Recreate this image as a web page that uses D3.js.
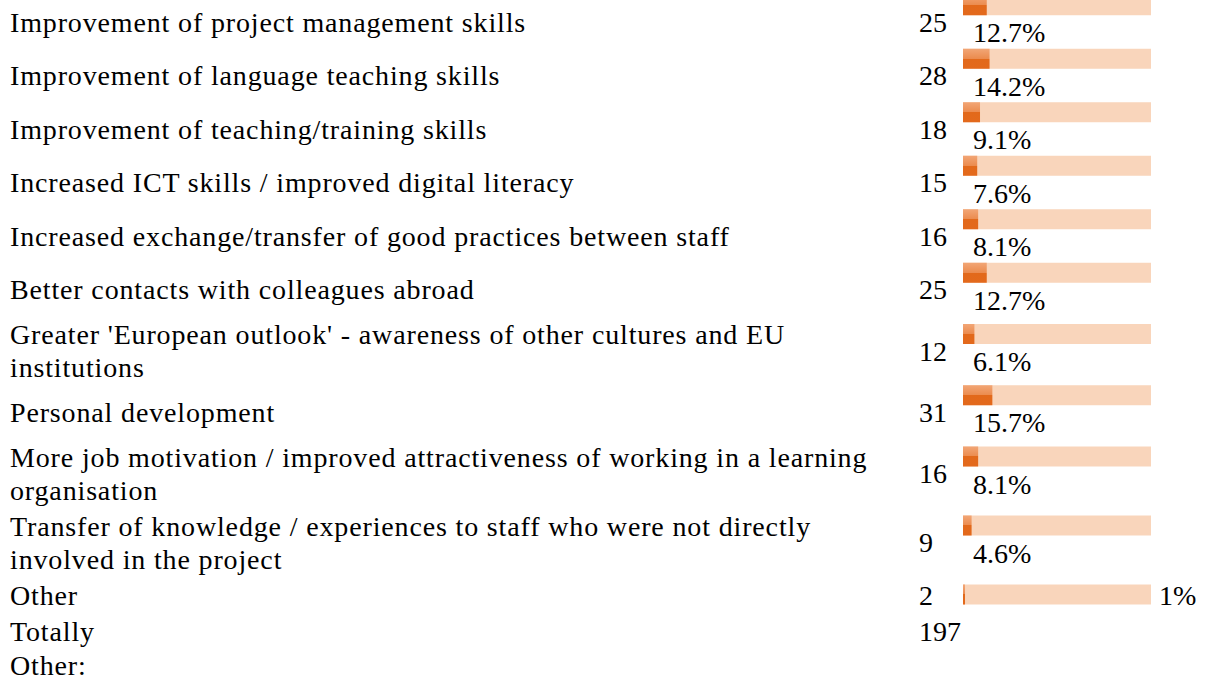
<!DOCTYPE html>
<html>
<head>
<meta charset="utf-8">
<script src="https://cdn.jsdelivr.net/npm/d3@7"></script>
<style>
  html, body { margin: 0; padding: 0; background: #fff; overflow: hidden; }
  svg text { font-family: "Liberation Serif", "Times New Roman", serif; font-size: 28px; fill: #000; }
  svg text.lab { letter-spacing: 0.85px; }
</style>
</head>
<body>
<div id="chart"></div>
<script>
const labels = [
  "Improvement of project management skills",
  "Improvement of language teaching skills",
  "Improvement of teaching/training skills",
  "Increased ICT skills / improved digital literacy",
  "Increased exchange/transfer of good practices between staff",
  "Better contacts with colleagues abroad",
  "Greater 'European outlook' - awareness of other cultures and EU institutions",
  "Personal development",
  "More job motivation / improved attractiveness of working in a learning organisation",
  "Transfer of knowledge / experiences to staff who were not directly involved in the project",
  "Other"
];
const counts = [25, 28, 18, 15, 16, 25, 12, 31, 16, 9, 2];
const percents = [12.7, 14.2, 9.1, 7.6, 8.1, 12.7, 6.1, 15.7, 8.1, 4.6, 1];
const totalLabel = "Totally";
const totalCount = 197;
const footerLabel = "Other:";

function drawTable() {
    const width = 1208, height = 680;
    const labelX = 10, labelW = 875;   // label column
    const countX = 919;                // count column
    const barX = 963, trackW = 187, barH = 20, cellW = 245;
    const lineH = 33, pad = 1.5, baseOff = 27.75;
    const cellH = 50.5;                // bar + percentage line below
    const pctDrop = 27;                // baseline of % text under the bar
    const top = -6.25;

    const svg = d3.select("#chart").append("svg")
        .attr("width", width).attr("height", height);

    const defs = svg.append("defs");
    const grad = defs.append("linearGradient").attr("id", "fillGrad")
        .attr("x1", 0).attr("y1", 0).attr("x2", 0).attr("y2", 1);
    grad.append("stop").attr("offset", "0%").attr("stop-color", "#f2a676");
    grad.append("stop").attr("offset", "50%").attr("stop-color", "#eb8b4e");
    grad.append("stop").attr("offset", "50%").attr("stop-color", "#e2691b");
    grad.append("stop").attr("offset", "100%").attr("stop-color", "#e3691c");

    const x = d3.scaleLinear().domain([0, 100]).range([0, trackW]);
    const fmt = v => String(v) + "%";

    // measure helpers for wrapping
    const probe = svg.append("text").attr("class", "lab").attr("x", -9999).attr("y", -9999);
    const measure = s => { probe.text(s); return probe.node().getComputedTextLength(); };
    const probeNum = svg.append("text").attr("x", -9999).attr("y", -9999);
    const measureNum = s => { probeNum.text(s); return probeNum.node().getComputedTextLength(); };

    function wrap(str) {
        const words = str.split(" ");
        const lines = [];
        let cur = "";
        words.forEach(w => {
            const test = cur ? cur + " " + w : w;
            if (cur && measure(test) > labelW) { lines.push(cur); cur = w; }
            else cur = test;
        });
        if (cur) lines.push(cur);
        return lines;
    }

    let y = top;
    const rows = labels.map((lab, i) => {
        const lines = wrap(lab);
        const pctText = fmt(percents[i]);
        const inline = trackW + 9 + measureNum(pctText) <= cellW;
        const contentH = inline ? lineH : cellH;
        const h = Math.max(lines.length * lineH, contentH) + 2 * pad;
        const row = {lines, count: counts[i], pct: percents[i], pctText, inline, start: y, h};
        y += h;
        return row;
    });
    probe.remove();
    probeNum.remove();

    const g = svg.append("g").selectAll("g").data(rows).join("g");

    // labels
    g.each(function(d) {
        const inner = d.h - 2 * pad;
        const lineTop = d.start + pad + (inner - d.lines.length * lineH) / 2;
        const t = d3.select(this).append("text").attr("class", "lab");
        d.lines.forEach((ln, k) => {
            t.append("tspan").attr("x", labelX).attr("y", lineTop + k * lineH + baseOff).text(ln);
        });
    });

    // counts
    g.append("text")
        .attr("x", countX)
        .attr("y", d => d.start + pad + (d.h - 2 * pad - lineH) / 2 + baseOff)
        .text(d => d.count);

    // bar top per row
    const barTop = d => d.inline
        ? d.start + pad + baseOff - barH
        : d.start + pad + (d.h - 2 * pad - cellH) / 2;

    g.append("rect")
        .attr("x", barX).attr("y", barTop)
        .attr("width", trackW + 1).attr("height", barH)
        .attr("fill", "#f9d5bb");

    g.append("rect")
        .attr("x", barX).attr("y", barTop)
        .attr("width", d => Math.max(2, x(d.pct))).attr("height", barH)
        .attr("fill", "url(#fillGrad)");

    g.append("text")
        .attr("x", d => d.inline ? barX + trackW + 9 : barX + 10)
        .attr("y", d => d.inline ? barTop(d) + barH : barTop(d) + barH + pctDrop)
        .text(d => d.pctText);

    // total and footer rows
    const footRowH = 34.5;
    const totalTop = y;
    svg.append("text").attr("class", "lab").attr("x", labelX).attr("y", totalTop + pad + baseOff).text(totalLabel);
    svg.append("text").attr("x", countX).attr("y", totalTop + pad + baseOff).text(totalCount);
    const footTop = totalTop + footRowH;
    svg.append("text").attr("class", "lab").attr("x", labelX).attr("y", footTop + pad + baseOff).text(footerLabel);
}

drawTable();
</script>
</body>
</html>
